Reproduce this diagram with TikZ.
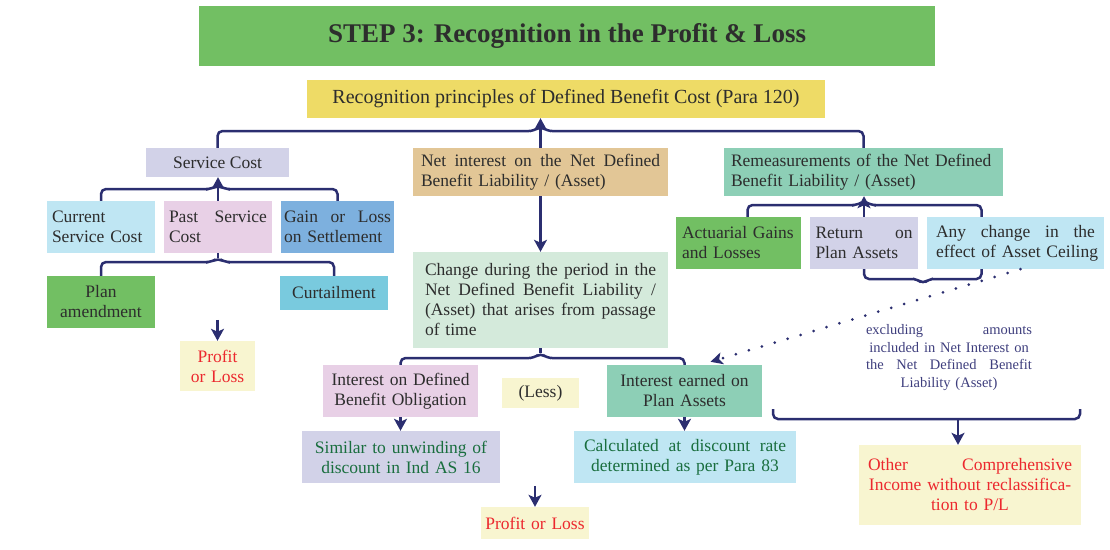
\documentclass[tikz,border=0pt]{standalone}
\usepackage{fontspec}
\setmainfont{Liberation Serif}
\usetikzlibrary{arrows.meta}
\definecolor{TitleGreen}{RGB}{114,191,99}
\definecolor{PrinYellow}{RGB}{238,219,102}
\definecolor{Lavender}{RGB}{210,210,232}
\definecolor{LightBlue}{RGB}{191,230,243}
\definecolor{PinkBox}{RGB}{232,208,230}
\definecolor{MidBlue}{RGB}{125,176,222}
\definecolor{CyanBox}{RGB}{121,202,222}
\definecolor{PaleYellow}{RGB}{248,245,208}
\definecolor{TanBox}{RGB}{226,198,150}
\definecolor{PaleGreen}{RGB}{212,234,219}
\definecolor{SeaGreen}{RGB}{141,207,182}
\definecolor{LineNavy}{RGB}{43,46,112}
\definecolor{TextDark}{RGB}{45,45,45}
\definecolor{RedText}{RGB}{236,40,46}
\definecolor{GreenText}{RGB}{25,110,62}
\definecolor{ExclNavy}{RGB}{62,62,125}
\begin{document}
\begin{tikzpicture}[x=1pt,y=-1pt,
        bx/.style={rectangle,inner ysep=0pt,font=\fontsize{17.5}{20}\selectfont,text=TextDark},
        link/.style={draw=LineNavy,line width=2.5pt,rounded corners=5pt},
        arr/.style={link,-{Stealth[length=12pt,width=13pt,inset=3pt]}},
        dots/.style={draw=LineNavy,line width=3pt,line cap=round,dash pattern=on 0pt off 13.5pt,
                     -{Stealth[length=12pt,width=12pt,inset=3pt]}}]
        \useasboundingbox (0,0) rectangle (1110,549);
        % headings
        \node[bx,fill=TitleGreen,minimum width=736pt,minimum height=60pt,
              font=\fontsize{27}{32}\selectfont\bfseries] (title) at (567,36)
          {STEP 3: Recognition in the Profit \& Loss};
        \node[bx,fill=PrinYellow,minimum width=518pt,minimum height=38pt,
              font=\fontsize{20}{23}\selectfont] (prin) at (566,99)
          {Recognition principles of Defined Benefit Cost (Para 120)};
        % three components
        \node[bx,fill=Lavender,minimum width=143pt,minimum height=29pt] (svc) at (217.5,162.5) {Service Cost};
        \node[bx,fill=TanBox,text width=239pt,inner xsep=8pt,minimum height=48pt,align=left] (netint) at (540.5,172)
          {Net\hfill interest\hfill on\hfill the\hfill Net\hfill Defined\\Benefit Liability / (Asset)};
        \node[bx,fill=SeaGreen,text width=265pt,inner xsep=7pt,minimum height=48pt,align=left] (rem) at (863.5,172)
          {\mbox{Remeasurements of the Net Defined}\\Benefit Liability / (Asset)};
        % service cost
        \node[bx,fill=LightBlue,text width=98pt,inner xsep=5pt,minimum height=52pt,align=left] (csc) at (101,227)
          {Current\\Service Cost};
        \node[bx,fill=PinkBox,text width=98pt,inner xsep=5pt,minimum height=52pt,align=left] (psc) at (218,227)
          {Past\hfill Service\\Cost};
        \node[bx,fill=MidBlue,text width=107pt,inner xsep=3pt,minimum height=52pt,align=left] (gain) at (337.5,227)
          {Gain\hfill or\hfill Loss\\on Settlement};
        \node[bx,fill=TitleGreen,text width=98pt,inner xsep=5pt,minimum height=52pt,align=center] (plan) at (101,302)
          {Plan\\amendment};
        \node[bx,fill=CyanBox,text width=98pt,inner xsep=5pt,minimum height=34pt,align=center] (curt) at (334,293)
          {Curtailment};
        \node[bx,fill=PaleYellow,text=RedText,text width=65pt,inner xsep=5pt,minimum height=50pt,align=center] (pl1) at (217.5,366)
          {Profit\\or Loss};
        % net interest
        \node[bx,fill=PaleGreen,text width=231pt,inner xsep=12pt,minimum height=96pt,align=left] (chg) at (540.5,300)
          {Change\hfill during\hfill the\hfill period\hfill in\hfill the\\Net\hfill Defined\hfill Benefit\hfill Liability\hfill /\\(Asset)\hfill that\hfill arises\hfill from\hfill passage\\of time};
        \node[bx,fill=PinkBox,text width=145pt,inner xsep=5pt,minimum height=52pt,align=center] (dbo) at (400.5,391)
          {Interest on Defined\\Benefit Obligation};
        \node[bx,fill=PaleYellow,text width=67pt,inner xsep=5pt,minimum height=30pt,align=center] (less) at (540.5,393)
          {(Less)};
        \node[bx,fill=SeaGreen,text width=145pt,inner xsep=5pt,minimum height=52pt,align=center] (intearn) at (684.5,391)
          {Interest earned on\\Plan Assets};
        \node[bx,fill=Lavender,text=GreenText,text width=188pt,inner xsep=5pt,minimum height=52pt,align=center] (sim) at (401,457)
          {Similar to unwinding of\\discount in Ind AS 16};
        \node[bx,fill=LightBlue,text=GreenText,text width=202pt,inner xsep=10pt,minimum height=52pt,align=center] (calc) at (685,457)
          {Calculated\hfill at\hfill discount\hfill rate\\determined as per Para 83};
        \node[bx,fill=PaleYellow,text=RedText,text width=104pt,inner xsep=2pt,minimum height=32pt,align=center] (pl2) at (535,523)
          {\mbox{Profit or Loss}};
        % remeasurements
        \node[bx,fill=TitleGreen,text width=113pt,inner xsep=6pt,minimum height=52pt,align=left] (act) at (738.5,243)
          {\mbox{Actuarial Gains}\\and Losses};
        \node[bx,fill=Lavender,text width=97pt,inner xsep=5.5pt,minimum height=52pt,align=left] (ret) at (864,243)
          {Return\hfill on\\Plan Assets};
        \node[bx,fill=LightBlue,text width=159pt,inner xsep=9pt,minimum height=52pt,align=left] (anyc) at (1015.5,243)
          {Any\hfill change\hfill in\hfill the\\\mbox{effect of Asset Ceiling}};
        \node[bx,text=ExclNavy,text width=166pt,inner xsep=0pt,font=\fontsize{14.5}{17.5}\selectfont,align=center] (excl) at (949,357.5)
          {excluding\hfill amounts\\\mbox{included in Net Interest on}\\the\hfill Net\hfill Defined\hfill Benefit\\Liability (Asset)};
        \node[bx,fill=PaleYellow,text=RedText,text width=204pt,inner xsep=9pt,minimum height=80pt,align=center] (oci) at (970,485)
          {Other\hfill Comprehensive\\\mbox{Income without reclassifica-}\\tion to P/L};
        % connectors
        \draw[link] (svc.north) |- (534,131) -- (540.5,126) -- (547,131) -| (rem.north);
        \draw[arr] (netint.north) -- (netint.north |- prin.south);
        \draw[link] (csc.north) |- (211.5,189) -- (218,185) -- (224.5,189) -| (gain.north);
        \draw[arr] (psc.north) -- (psc.north |- svc.south);
        \draw[link] (plan.north) |- (211.5,262) -- (218,258) -- (224.5,262) -| (curt.north);
        \draw[link] (psc.south) -- (218,258);
        \draw[arr] ([yshift=21pt]pl1.north) -- (pl1.north);
        \draw[arr] (chg.north |- netint.south) -- (chg.north);
        \draw[link] (dbo.north) |- (534,358) -- (540.5,353) -- (547,358) -| (intearn.north);
        \draw[link] (chg.south) -- (540.5,353);
        \draw[arr] (dbo.south) -- (dbo.south |- sim.north);
        \draw[arr] (intearn.south) -- (intearn.south |- calc.north);
        \draw[arr] ([yshift=21pt]pl2.north) -- (pl2.north);
        \draw[link] ([xshift=9pt]act.north) |- (857.5,205) -- (864,201) -- (870.5,205) -| ([xshift=-34pt]anyc.north);
        \draw[arr] (ret.north) -- (ret.north |- rem.south);
        \draw[link] (ret.south) |- (917,279) -- (923,284) -- (929,279) -| ([xshift=-34pt]anyc.south);
        \draw[dots] ([xshift=5pt]anyc.south) -- ([xshift=26pt,yshift=3pt]intearn.north);
        \coordinate (ociL) at (773,409);
        \coordinate (ociR) at (1080,409);
        \coordinate (ociM) at (958,419);
        \draw[link] (ociL) |- (ociM) -| (ociR);
        \draw[arr] (ociM) -- (ociM |- oci.north);
      \end{tikzpicture}
\end{document}
